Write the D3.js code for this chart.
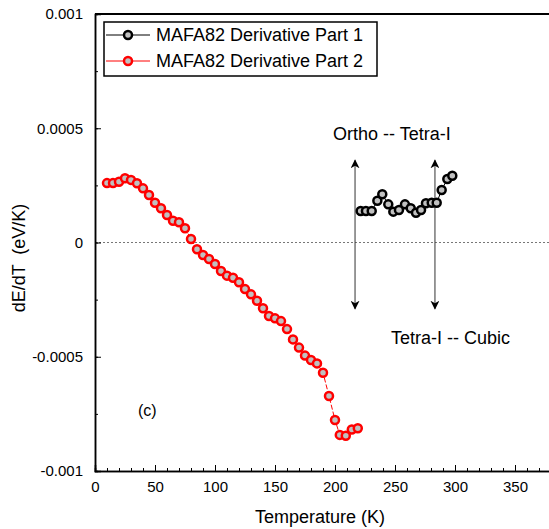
<!DOCTYPE html>
<meta charset="utf-8">
<body style="margin:0;background:#fff">
<script src="https://d3js.org/d3.v7.min.js" charset="utf-8"></script>
<style type="text/css">
  text {
    font-family: "Liberation Sans", Arial, sans-serif;
    fill: #000;
  }
  .tick text {
    font-size: 15px;
  }
  .ann {
    font-size: 18px;
  }
</style>
<script>
var width = 549;
var height = 529;

// series 1 (black) - temperature and dE/dT
var tempPart1 = [221.4, 225.8, 230.6, 235.3, 239.4, 244.4, 248.6, 253.3, 258.3, 263.1,
                 267.5, 271.7, 275.8, 280.6, 284.75, 288.9, 293.6, 297.75];
var dEdTPart1 = [0.000138, 0.000138, 0.000138, 0.000183, 0.000211, 0.000167, 0.000135, 0.000142, 0.000167, 0.000150,
                 0.000130, 0.000142, 0.000172, 0.000174, 0.000174, 0.000230, 0.000278, 0.000292];

// series 2 (red)
var tempPart2 = [10, 15, 20, 25, 30, 35, 40, 45, 50, 55, 60, 65, 70, 75, 80, 85, 90, 95, 100,
                 105, 110, 115, 120, 125, 130, 135, 140, 145, 150, 155, 160, 165, 170, 175, 180,
                 185, 190, 195, 200, 204, 209, 214, 219];
var dEdTPart2 = [0.000260, 0.000260, 0.000266, 0.000281, 0.000274, 0.000259, 0.000237, 0.000208, 0.000174, 0.000150,
                 0.000120, 0.0000954, 0.0000884, 0.0000621, 0.0000153, -0.0000298, -0.0000547, -0.0000722, -0.0000941,
                 -0.000125, -0.000145, -0.000154, -0.000174, -0.000204, -0.000227, -0.000255, -0.000288, -0.000322,
                 -0.000332, -0.000344, -0.000379, -0.000424, -0.000460, -0.000495, -0.000514, -0.000529, -0.000570,
                 -0.000672, -0.000777, -0.000842, -0.000846, -0.000818, -0.000813];

var seriesNames = ["MAFA82 Derivative Part 1", "MAFA82 Derivative Part 2"];
var seriesColors = ["#000000", "#ff0000"];

var xTicks = [0, 50, 100, 150, 200, 250, 300, 350];
var yTicks = [-0.001, -0.0005, 0, 0.0005, 0.001];
var yTickLabels = ["-0.001", "-0.0005", "0", "0.0005", "0.001"];

// transition arrows: [temperature, from, to]
var arrows = [[216.7, 0.00036, -0.00029], [283.3, 0.00036, -0.00029]];

var svg = d3.select("body")
            .append("svg")
            .attr("width", width)
            .attr("height", height);

var xScale = d3.scaleLinear().domain([0, 380]).range([95, 551]);
var yScale = d3.scaleLinear().domain([-0.001, 0.001]).range([471, 14]);

var defs = svg.append("defs");
defs.append("marker")
    .attr("id", "head")
    .attr("viewBox", "0 0 10 10")
    .attr("refX", 9).attr("refY", 5)
    .attr("markerWidth", 9).attr("markerHeight", 9)
    .attr("markerUnits", "userSpaceOnUse")
    .attr("orient", "auto-start-reverse")
    .append("path")
    .attr("d", "M0,0 L10,5 L0,10 L3,5 Z")
    .attr("fill", "#000");

// zero line
svg.append("line")
    .attr("x1", xScale(0)).attr("x2", width)
    .attr("y1", yScale(0)).attr("y2", yScale(0))
    .attr("stroke", "#777")
    .attr("stroke-width", 1)
    .attr("stroke-dasharray", "2,2");

// axes with inward ticks
var xMinor = d3.axisBottom(xScale).tickValues(d3.range(0, 381, 10)).tickSize(-3).tickFormat("");
var xMajor = d3.axisBottom(xScale).tickValues(xTicks).tickSize(-6).tickPadding(10);
var yMinor = d3.axisLeft(yScale).tickValues(d3.range(-0.001, 0.00101, 0.00025)).tickSize(-3).tickFormat("");
var yMajor = d3.axisLeft(yScale).tickValues(yTicks).tickSize(-6).tickPadding(12)
               .tickFormat(function(d, i) { return yTickLabels[i]; });

svg.append("g").attr("transform", "translate(0," + yScale(-0.001) + ")").call(xMinor);
svg.append("g").attr("transform", "translate(0," + yScale(-0.001) + ")").call(xMajor);
svg.append("g").attr("transform", "translate(" + xScale(0) + ",0)").call(yMinor);
svg.append("g").attr("transform", "translate(" + xScale(0) + ",0)").call(yMajor);

svg.selectAll(".domain").attr("stroke", "#000").attr("stroke-width", 1.5);
svg.selectAll(".tick line").attr("stroke", "#000");
svg.selectAll(".tick text").style("font-family", "Liberation Sans, Arial, sans-serif").attr("fill", "#000");

// top frame
svg.append("line")
    .attr("x1", xScale(0)).attr("x2", width)
    .attr("y1", yScale(0.001)).attr("y2", yScale(0.001))
    .attr("stroke", "#000").attr("stroke-width", 2);

// axis titles
svg.append("text")
    .attr("x", 320).attr("y", 523)
    .attr("text-anchor", "middle")
    .style("font-size", "18px")
    .text("Temperature (K)");

svg.append("text")
    .attr("transform", "translate(25,258) rotate(-90)")
    .attr("text-anchor", "middle")
    .style("font-size", "18px")
    .style("white-space", "pre")
    .attr("xml:space", "preserve")
    .text("dE/dT  (eV/K)");

// arrows
arrows.forEach(function(a) {
  svg.append("line")
      .attr("x1", xScale(a[0])).attr("x2", xScale(a[0]))
      .attr("y1", yScale(a[1])).attr("y2", yScale(a[2]))
      .attr("stroke", "#333").attr("stroke-width", 1)
      .attr("marker-start", "url(#head)")
      .attr("marker-end", "url(#head)");
});

// series
var part1 = tempPart1.map(function(t, i) { return [t, dEdTPart1[i]]; });
var part2 = tempPart2.map(function(t, i) { return [t, dEdTPart2[i]]; });
var line = d3.line().x(function(d) { return xScale(d[0]); }).y(function(d) { return yScale(d[1]); });

[part1, part2].forEach(function(data, k) {
  svg.append("path")
      .datum(data)
      .attr("d", line)
      .attr("fill", "none")
      .attr("stroke", seriesColors[k])
      .attr("stroke-width", 1)
      .attr("stroke-dasharray", k == 1 ? "5,2" : null);
  svg.append("g").selectAll("circle")
      .data(data)
      .enter()
      .append("circle")
      .attr("cx", function(d) { return xScale(d[0]); })
      .attr("cy", function(d) { return yScale(d[1]); })
      .attr("r", 4)
      .attr("fill", "#c0c0c0")
      .attr("stroke", seriesColors[k])
      .attr("stroke-width", 2.5);
});

// annotations
svg.append("text").attr("class", "ann").attr("x", 333).attr("y", 140).text("Ortho -- Tetra-I");
svg.append("text").attr("class", "ann").attr("x", 391).attr("y", 344).text("Tetra-I -- Cubic");
svg.append("text").attr("class", "ann").attr("x", 138).attr("y", 416).style("font-size", "16px").text("(c)");

// legend
var legend = svg.append("g");
legend.append("rect")
    .attr("x", 104).attr("y", 22)
    .attr("width", 273).attr("height", 54)
    .attr("fill", "#fff")
    .attr("stroke", "#000").attr("stroke-width", 1.5);

seriesNames.forEach(function(name, k) {
  var yy = 35 + k * 26;
  legend.append("line")
      .attr("x1", 106).attr("x2", 150)
      .attr("y1", yy).attr("y2", yy)
      .attr("stroke", seriesColors[k]).attr("stroke-width", 1);
  legend.append("circle")
      .attr("cx", 128).attr("cy", yy).attr("r", 4)
      .attr("fill", "#c0c0c0")
      .attr("stroke", seriesColors[k]).attr("stroke-width", 2.5);
  legend.append("text")
      .attr("x", 156).attr("y", yy + 6)
      .style("font-size", "18px")
      .text(name);
});
</script>
</body>
</html>
